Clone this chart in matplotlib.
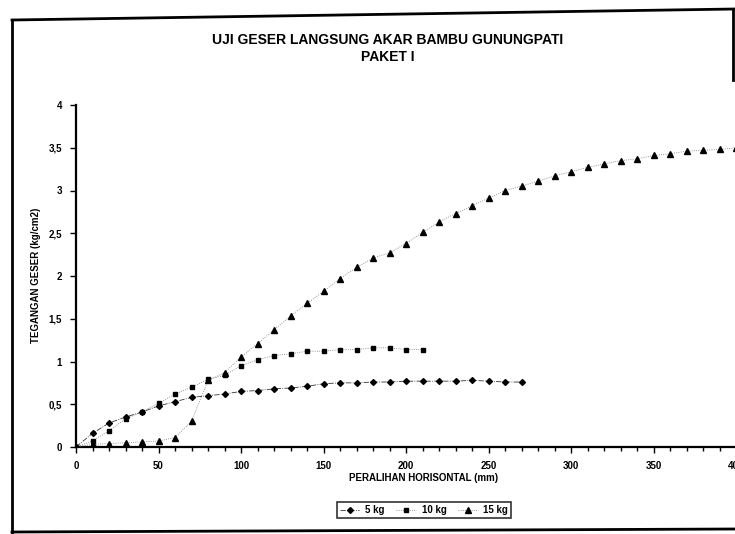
import numpy as np
import matplotlib.pyplot as plt
from matplotlib.lines import Line2D

plt.rcParams['font.family'] = ['Liberation Sans', 'DejaVu Sans']
plt.rcParams['font.weight'] = 'bold'

# pergeseran (mm) dan tegangan geser (kg/cm2)
x_5kg = list(range(0, 280, 10))
y_5kg = [0, 0.16, 0.28, 0.35, 0.41, 0.48, 0.53, 0.58, 0.60, 0.62, 0.65, 0.66, 0.68, 0.69,
         0.71, 0.74, 0.75, 0.75, 0.76, 0.76, 0.77, 0.77, 0.77, 0.77, 0.78, 0.77, 0.76, 0.76]

x_10kg = list(range(0, 220, 10))
y_10kg = [0, 0.07, 0.19, 0.33, 0.41, 0.51, 0.62, 0.70, 0.79, 0.84, 0.95, 1.02, 1.07, 1.09,
          1.12, 1.12, 1.14, 1.14, 1.16, 1.16, 1.14, 1.14]

x_15kg = list(range(0, 410, 10))
y_15kg = [0, 0.03, 0.04, 0.05, 0.06, 0.07, 0.11, 0.30, 0.78, 0.87, 1.05, 1.21, 1.37, 1.53,
          1.68, 1.82, 1.97, 2.10, 2.21, 2.27, 2.38, 2.51, 2.63, 2.73, 2.82, 2.91, 3.00, 3.05,
          3.11, 3.17, 3.22, 3.27, 3.31, 3.35, 3.37, 3.41, 3.43, 3.46, 3.47, 3.48, 3.50]

x_ticks = [0, 50, 100, 150, 200, 250, 300, 350, 400]
y_ticks = [0, 0.5, 1, 1.5, 2, 2.5, 3, 3.5, 4]
y_ticklabels = ['0', '0,5', '1', '1,5', '2', '2,5', '3', '3,5', '4']

W, H = 735, 534
fig = plt.figure(figsize=(W / 100, H / 100), dpi=100)
ax = fig.add_axes([76 / W, 1 - 447 / H, 660 / W, 342 / H])

ax.plot(x_15kg, y_15kg, color='#777777', ls=':', lw=0.6, marker='^', ms=3.8,
        mfc='black', mec='black', label='15 kg', zorder=3)
ax.plot(x_10kg, y_10kg, color='#777777', ls=':', lw=0.6, marker='s', ms=3.0,
        mfc='black', mec='black', label='10 kg', zorder=4)
ax.plot(x_5kg, y_5kg, color='#333333', ls='-.', lw=0.6, marker='D', ms=3.0,
        mfc='black', mec='black', label='5 kg', zorder=5)

ax.set_xlim(0, 400)
ax.set_ylim(0, 4)
ax.set_xticks(x_ticks)
ax.set_xticks(range(0, 401, 10), minor=True)
ax.set_yticks(y_ticks)
ax.set_yticklabels(y_ticklabels)
for s in ['top', 'right']:
    ax.spines[s].set_visible(False)
for s in ['left', 'bottom']:
    ax.spines[s].set_linewidth(1.6)
ax.tick_params(axis='both', direction='out', length=4, width=1, labelsize=7, pad=6)
ax.tick_params(axis='x', which='minor', length=3, width=1)
for lab in ax.get_xticklabels() + ax.get_yticklabels():
    lab.set_fontweight('bold')

fig.text(388 / W, 1 - 40 / H, 'UJI GESER LANGSUNG AKAR BAMBU GUNUNGPATI',
         ha='center', va='center', fontsize=10, fontweight='bold')
fig.text(388 / W, 1 - 57 / H, 'PAKET I', ha='center', va='center',
         fontsize=10, fontweight='bold')
fig.text(36 / W, 1 - 275 / H, 'TEGANGAN GESER (kg/cm2)', rotation=90,
         ha='center', va='center', fontsize=7, fontweight='bold')
fig.text(424 / W, 1 - 478 / H, 'PERALIHAN HORISONTAL (mm)',
         ha='center', va='center', fontsize=7, fontweight='bold')

handles, labels = ax.get_legend_handles_labels()
leg = fig.legend(handles[::-1], labels[::-1], loc='center', ncol=3,
                 bbox_to_anchor=(424 / W, 1 - 510 / H), fontsize=7,
                 frameon=True, fancybox=False, edgecolor='black',
                 handlelength=2.0, handletextpad=0.6, columnspacing=1.2,
                 borderpad=0.3)
leg.get_frame().set_linewidth(1.2)
for t in leg.get_texts():
    t.set_fontweight('bold')

# bingkai luar grafik
def px_line(xs, ys, lw=2):
    fig.add_artist(Line2D([x / W for x in xs], [1 - y / H for y in ys],
                          color='black', lw=lw, transform=fig.transFigure))

px_line([12, 735], [20, 9])
px_line([12, 12], [20, 534])
px_line([733, 733], [9, 80])
px_line([12, 735], [532, 529])

fig.savefig('out.png', dpi=100)
